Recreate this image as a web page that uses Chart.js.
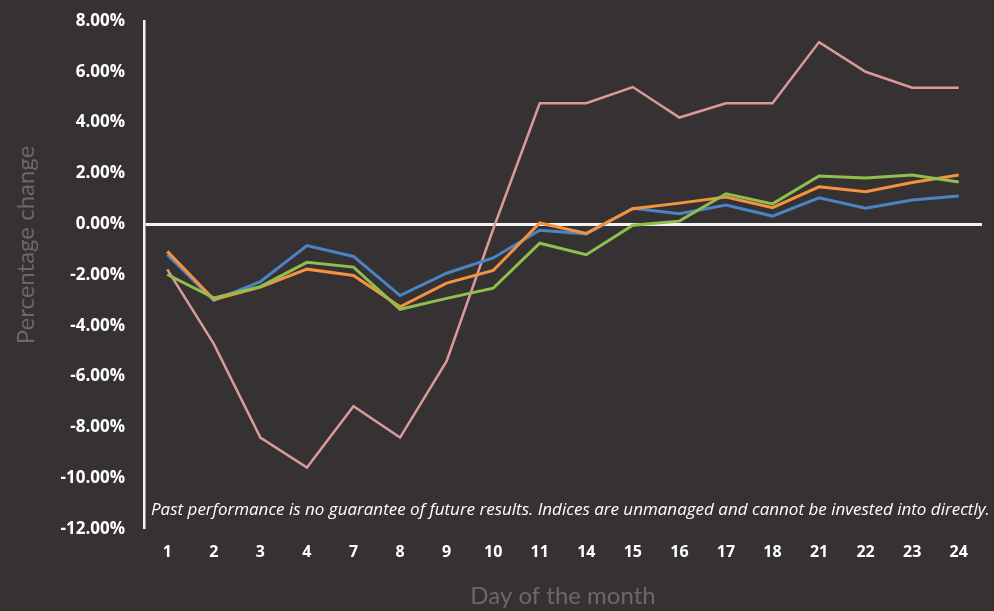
<!DOCTYPE html>
<html>
<head>
<meta charset="utf-8">
<script src="https://cdn.jsdelivr.net/npm/chart.js@4"></script>
<style>
  html, body { margin: 0; padding: 0; background: #363234; }
  #wrap { width: 994px; height: 611px; position: relative; }
</style>
</head>
<body>
<div id="wrap"><canvas id="perf-chart"></canvas></div>
<script>
// Dias del mes (eje x)
var days = ["1", "2", "3", "4", "7", "8", "9", "10", "11", "14", "15", "16", "17", "18", "21", "22", "23", "24"];

// Series en porcentaje
var pinkSeries = [-1.78, -4.71, -8.4, -9.58, -7.17, -8.4, -5.39, -0.2, 4.76, 4.76, 5.4, 4.2, 4.76, 4.76, 7.17, 6.0, 5.37, 5.37];
var blueSeries = [-1.2, -3.0, -2.26, -0.84, -1.27, -2.81, -1.93, -1.33, -0.24, -0.38, 0.63, 0.41, 0.75, 0.32, 1.04, 0.63, 0.95, 1.11];
var greenSeries = [-1.98, -2.9, -2.46, -1.5, -1.69, -3.35, -2.92, -2.52, -0.75, -1.2, -0.04, 0.12, 1.2, 0.8, 1.9, 1.82, 1.94, 1.66];
var orangeSeries = [-1.07, -2.97, -2.48, -1.77, -2.02, -3.25, -2.32, -1.82, 0.05, -0.36, 0.61, 0.83, 1.07, 0.65, 1.47, 1.28, 1.64, 1.94];

var yTicks = [-12, -10, -8, -6, -4, -2, 0, 2, 4, 6, 8];
var yTitle = "Percentage change";
var footnote = "Past performance is no guarantee of future results. Indices are unmanaged and cannot be invested into directly.";

var textPlugin = { // Titulo vertical y aviso dentro del area del grafico
    id: "extraText",
    afterDraw: function (chart) {
        var ctx = chart.ctx;
        var area = chart.chartArea;
        ctx.save();
        ctx.font = "italic 17px 'Open Sans'";
        ctx.fillStyle = "#ffffff";
        ctx.textBaseline = "middle";
        ctx.textAlign = "left";
        ctx.fillText(footnote, area.left + 7, 510, 842);

        ctx.translate(26, 245);
        ctx.rotate(-Math.PI / 2);
        ctx.font = "24px Lato";
        ctx.fillStyle = "#6c686a";
        ctx.textAlign = "center";
        ctx.fillText(yTitle, 0, 0);
        ctx.restore();
    }
};

var makeLine = function (data, color, width, order) {
    return {
        data: data,
        borderColor: color,
        backgroundColor: color,
        borderWidth: width,
        pointRadius: 0,
        tension: 0,
        fill: false,
        order: order
    };
};

new Chart(document.getElementById("perf-chart"), {
    type: "line",
    data: {
        labels: days,
        datasets: [
            makeLine(pinkSeries, "#d99a98", 2.5, 4),
            makeLine(blueSeries, "#4a84c4", 3, 3),
            makeLine(greenSeries, "#8fbf4c", 3, 1),
            makeLine(orangeSeries, "#f4923f", 3, 2)
        ]
    },
    options: {
        responsive: true,
        maintainAspectRatio: false,
        animation: false,
        layout: { padding: { top: 21, right: 12, left: 0, bottom: 0 } },
        plugins: {
            legend: { display: false },
            tooltip: { enabled: false }
        },
        scales: {
            x: {
                offset: true,
                grid: { display: false, drawTicks: false },
                border: { display: false },
                ticks: {
                    color: "#ffffff",
                    font: { family: "'Open Sans'", size: 16, weight: "bold" },
                    padding: 14,
                    maxRotation: 0,
                    autoSkip: false
                },
                title: {
                    display: true,
                    text: "Day of the month",
                    color: "#6c686a",
                    font: { family: "Lato", size: 24 },
                    padding: { top: 6, bottom: 0 }
                },
                afterFit: function (scale) { scale.height = 82; }
            },
            y: {
                min: -12,
                max: 8,
                afterBuildTicks: function (scale) {
                    scale.ticks = yTicks.map(function (v) { return { value: v }; });
                },
                grid: {
                    drawTicks: false,
                    color: function (c) { return c.tick && c.tick.value === 0 ? "#f2f2f2" : "rgba(0,0,0,0)"; },
                    lineWidth: function (c) { return c.tick && c.tick.value === 0 ? 3 : 0; }
                },
                border: { display: true, color: "#f2f2f2", width: 2.5 },
                ticks: {
                    color: "#ffffff",
                    font: { family: "'Open Sans'", size: 17, weight: "bold" },
                    padding: 19,
                    callback: function (v) { return v.toFixed(2) + "%"; }
                },
                title: { display: false },
                afterFit: function (scale) {
                    scale.width = 144;
                    scale.paddingTop = 0;
                    scale.paddingBottom = 0;
                }
            }
        }
    },
    plugins: [textPlugin]
});
</script>
</body>
</html>
